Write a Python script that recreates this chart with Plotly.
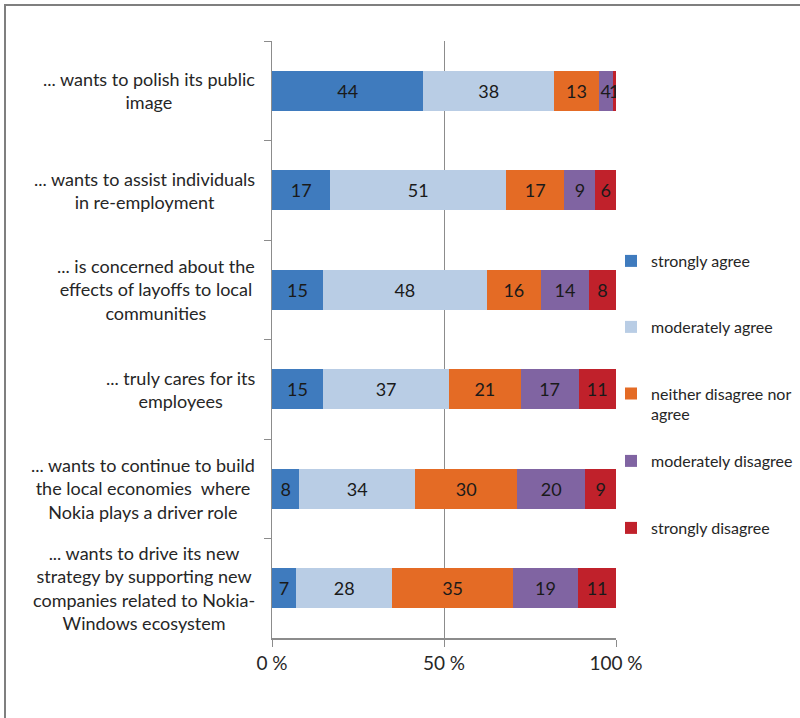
import plotly.graph_objects as go

# Survey statements (top to bottom) and answer shares in percent
statements = [
    "... wants to polish its public<br>image",
    "... wants to assist individuals<br>in re-employment",
    "... is concerned about the<br>effects of layoffs to local<br>communities",
    "... truly cares for its<br>employees",
    "... wants to continue to build<br>the local economies  where<br>Nokia plays a driver role",
    "... wants to drive its new<br>strategy by supporting new<br>companies related to Nokia-<br>Windows ecosystem",
]
category_ids = ["s1", "s2", "s3", "s4", "s5", "s6"]

strongly_agree = [44, 17, 15, 15, 8, 7]
moderately_agree = [38, 51, 48, 37, 34, 28]
neither = [13, 17, 16, 21, 30, 35]
moderately_disagree = [4, 9, 14, 17, 20, 19]
strongly_disagree = [1, 6, 8, 11, 9, 11]

series_names = [
    "strongly agree",
    "moderately agree",
    "neither disagree nor<br>agree",
    "moderately disagree",
    "strongly disagree",
]
series_values = [strongly_agree, moderately_agree, neither,
                 moderately_disagree, strongly_disagree]
series_colors = ["#3F7BBE", "#B9CDE5", "#E46B25", "#8064A2", "#C0212B"]

tick_vals = [0, 50, 100]
tick_text = ["0 %", "50 %", "100 %"]

W, H = 800, 718
L, R, T, B = 272, 184, 41, 80
plot_w = W - L - R
plot_h = H - T - B

FONT = "Lato, 'Open Sans', sans-serif"
TEXT_COLOR = "#262626"
GRID = "#8C8C8C"


def px_to_paper_x(px):
    return (px - L) / plot_w


def px_to_paper_y(py):
    return (H - B - py) / plot_h


fig = go.Figure()

legend_ids = ["legend", "legend2", "legend3", "legend4", "legend5"]
legend_px_y = [261, 327, 404, 461, 528]

for name, vals, color, lid in zip(series_names, series_values, series_colors, legend_ids):
    fig.add_trace(go.Bar(
        y=category_ids,
        x=vals,
        orientation="h",
        name=name,
        width=0.4,
        marker=dict(color=color, line=dict(width=0)),
        text=[str(v) for v in vals],
        textposition="inside",
        insidetextanchor="middle",
        textangle=0,
        constraintext="none",
        insidetextfont=dict(family=FONT, size=18, color="#1A1A1A"),
        legend=lid,
        hoverinfo="skip",
    ))

# Separate legend boxes so that each entry sits at its own height
legend_layouts = {}
for lid, py in zip(legend_ids, legend_px_y):
    legend_layouts[lid] = dict(
        x=px_to_paper_x(611), xanchor="left",
        y=px_to_paper_y(py), yanchor="middle",
        font=dict(family=FONT, size=16, color=TEXT_COLOR),
        bgcolor="rgba(0,0,0,0)",
        borderwidth=0,
        itemwidth=30,
        valign="top",
        itemclick=False,
        itemdoubleclick=False,
    )

# Statement labels, centred text blocks right-aligned against the axis
annotations = []
for i, txt in enumerate(statements):
    annotations.append(dict(
        x=px_to_paper_x(257), xref="paper", xanchor="right",
        y=category_ids[i], yref="y", yanchor="middle",
        text=txt, showarrow=False, align="center",
        font=dict(family=FONT, size=18, color=TEXT_COLOR),
    ))

fig.update_layout(
    width=W, height=H,
    margin=dict(l=L, r=R, t=T, b=B, pad=0, autoexpand=False),
    barmode="stack",
    barnorm="percent",
    paper_bgcolor="white",
    plot_bgcolor="white",
    showlegend=True,
    annotations=annotations,
    shapes=[dict(
        type="rect", xref="paper", yref="paper",
        x0=px_to_paper_x(5), x1=px_to_paper_x(820),
        y0=px_to_paper_y(740), y1=px_to_paper_y(5),
        line=dict(color="#7F7F7F", width=2),
        fillcolor="rgba(0,0,0,0)", layer="below",
    )],
    xaxis=dict(
        range=[0, 100],
        tickvals=tick_vals, ticktext=tick_text,
        showgrid=True, gridcolor=GRID, gridwidth=1,
        zeroline=False,
        showline=True, linecolor=GRID, linewidth=1.5,
        ticks="outside", ticklen=7, tickcolor=GRID,
        tickfont=dict(family=FONT, size=19, color=TEXT_COLOR),
        fixedrange=True,
    ),
    yaxis=dict(
        type="category",
        categoryorder="array", categoryarray=category_ids,
        autorange="reversed",
        showticklabels=False,
        showline=True, linecolor=GRID, linewidth=1,
        ticks="outside", ticklen=7, tickcolor=GRID,
        tickson="boundaries",
        showgrid=False, zeroline=False,
        fixedrange=True,
    ),
    **legend_layouts,
)

fig.write_html("out.html")
